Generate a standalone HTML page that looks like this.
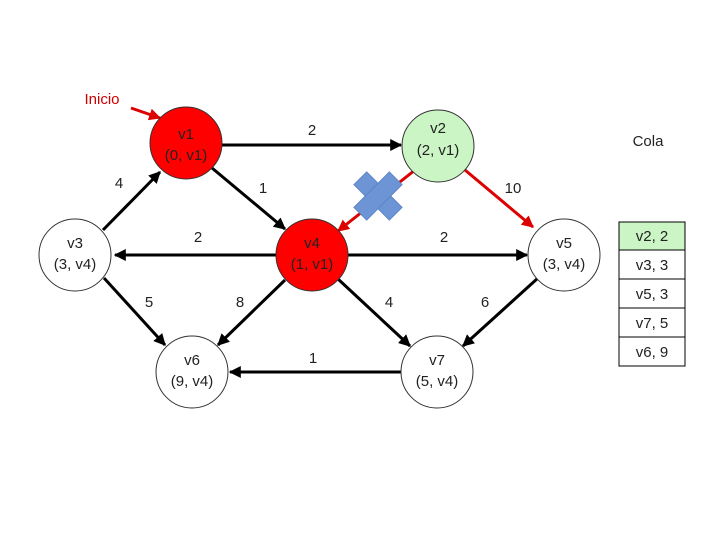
<!DOCTYPE html>
<html><head><style>body{margin:0;background:#fff}</style></head><body>
<svg width="720" height="540" viewBox="0 0 720 540" xmlns="http://www.w3.org/2000/svg" font-family="Liberation Sans, sans-serif">
<defs>
<marker id="a" viewBox="0 0 10 10" refX="9" refY="5" markerWidth="4" markerHeight="4" orient="auto"><path d="M0,0L10,5L0,10z" fill="#000"/></marker>
<marker id="r" viewBox="0 0 10 10" refX="9" refY="5" markerWidth="4" markerHeight="4" orient="auto"><path d="M0,0L10,5L0,10z" fill="#d00"/></marker>
<linearGradient id="g" x1="0" y1="0" x2="0" y2="1" gradientUnits="userSpaceOnUse" gradientTransform="rotate(-45 378 196)"><stop offset="0.35" stop-color="#8fb2e8"/><stop offset="0.5" stop-color="#4a7cc4"/></linearGradient>
</defs>
<g stroke="#000" stroke-width="3" marker-end="url(#a)">
<line x1="222" y1="145" x2="401" y2="145"/>
<line x1="103" y1="230" x2="160" y2="172"/>
<line x1="212" y1="168" x2="285" y2="229"/>
<line x1="276" y1="255" x2="115" y2="255"/>
<line x1="348" y1="255" x2="527" y2="255"/>
<line x1="104" y1="278" x2="165" y2="345"/>
<line x1="285" y1="280" x2="218" y2="345"/>
<line x1="338" y1="279" x2="410" y2="346"/>
<line x1="538" y1="278" x2="463" y2="346"/>
<line x1="401" y1="372" x2="230" y2="372"/>
</g>
<g stroke="#d00" stroke-width="3" marker-end="url(#r)">
<line x1="465" y1="170" x2="533" y2="227"/>
<line x1="415" y1="170" x2="338" y2="231"/>
<line x1="131" y1="108" x2="160" y2="118"/>
</g>
<g transform="rotate(45 378 196)" fill="#6d95d6" stroke="#5a84c8" stroke-width="1">
<rect x="353" y="187" width="50" height="18"/>
<rect x="369" y="171" width="18" height="50"/>
</g>
<g stroke="#333" stroke-width="1">
<circle cx="186" cy="143" r="36" fill="#f00"/>
<circle cx="438" cy="146" r="36" fill="#ccf5c6"/>
<circle cx="75" cy="255" r="36" fill="#fff"/>
<circle cx="312" cy="255" r="36" fill="#f00"/>
<circle cx="564" cy="255" r="36" fill="#fff"/>
<circle cx="192" cy="372" r="36" fill="#fff"/>
<circle cx="437" cy="372" r="36" fill="#fff"/>
</g>
<g font-size="15" text-anchor="middle" fill="#222">
<text x="186" y="139">v1</text><text x="186" y="160">(0, v1)</text>
<text x="438" y="133">v2</text><text x="438" y="155">(2, v1)</text>
<text x="75" y="248">v3</text><text x="75" y="269">(3, v4)</text>
<text x="312" y="248">v4</text><text x="312" y="269">(1, v1)</text>
<text x="564" y="248">v5</text><text x="564" y="269">(3, v4)</text>
<text x="192" y="365">v6</text><text x="192" y="386">(9, v4)</text>
<text x="437" y="365">v7</text><text x="437" y="386">(5, v4)</text>
<text x="312" y="135">2</text><text x="119" y="188">4</text><text x="263" y="193">1</text>
<text x="513" y="193">10</text><text x="198" y="242">2</text><text x="444" y="242">2</text>
<text x="149" y="307">5</text><text x="240" y="307">8</text><text x="389" y="307">4</text>
<text x="485" y="307">6</text><text x="313" y="363">1</text>
<text x="648" y="146">Cola</text>
<text x="102" y="104" fill="#c00">Inicio</text>
</g>
<g stroke="#000" stroke-width="1">
<rect x="619" y="222" width="66" height="28" fill="#ccf5c6"/>
<rect x="619" y="250" width="66" height="29" fill="#fff"/>
<rect x="619" y="279" width="66" height="29" fill="#fff"/>
<rect x="619" y="308" width="66" height="29" fill="#fff"/>
<rect x="619" y="337" width="66" height="29" fill="#fff"/>
</g>
<g font-size="15" text-anchor="middle" fill="#222">
<text x="652" y="241">v2, 2</text><text x="652" y="270">v3, 3</text><text x="652" y="299">v5, 3</text>
<text x="652" y="328">v7, 5</text><text x="652" y="357">v6, 9</text>
</g>
</svg>
</body></html>
